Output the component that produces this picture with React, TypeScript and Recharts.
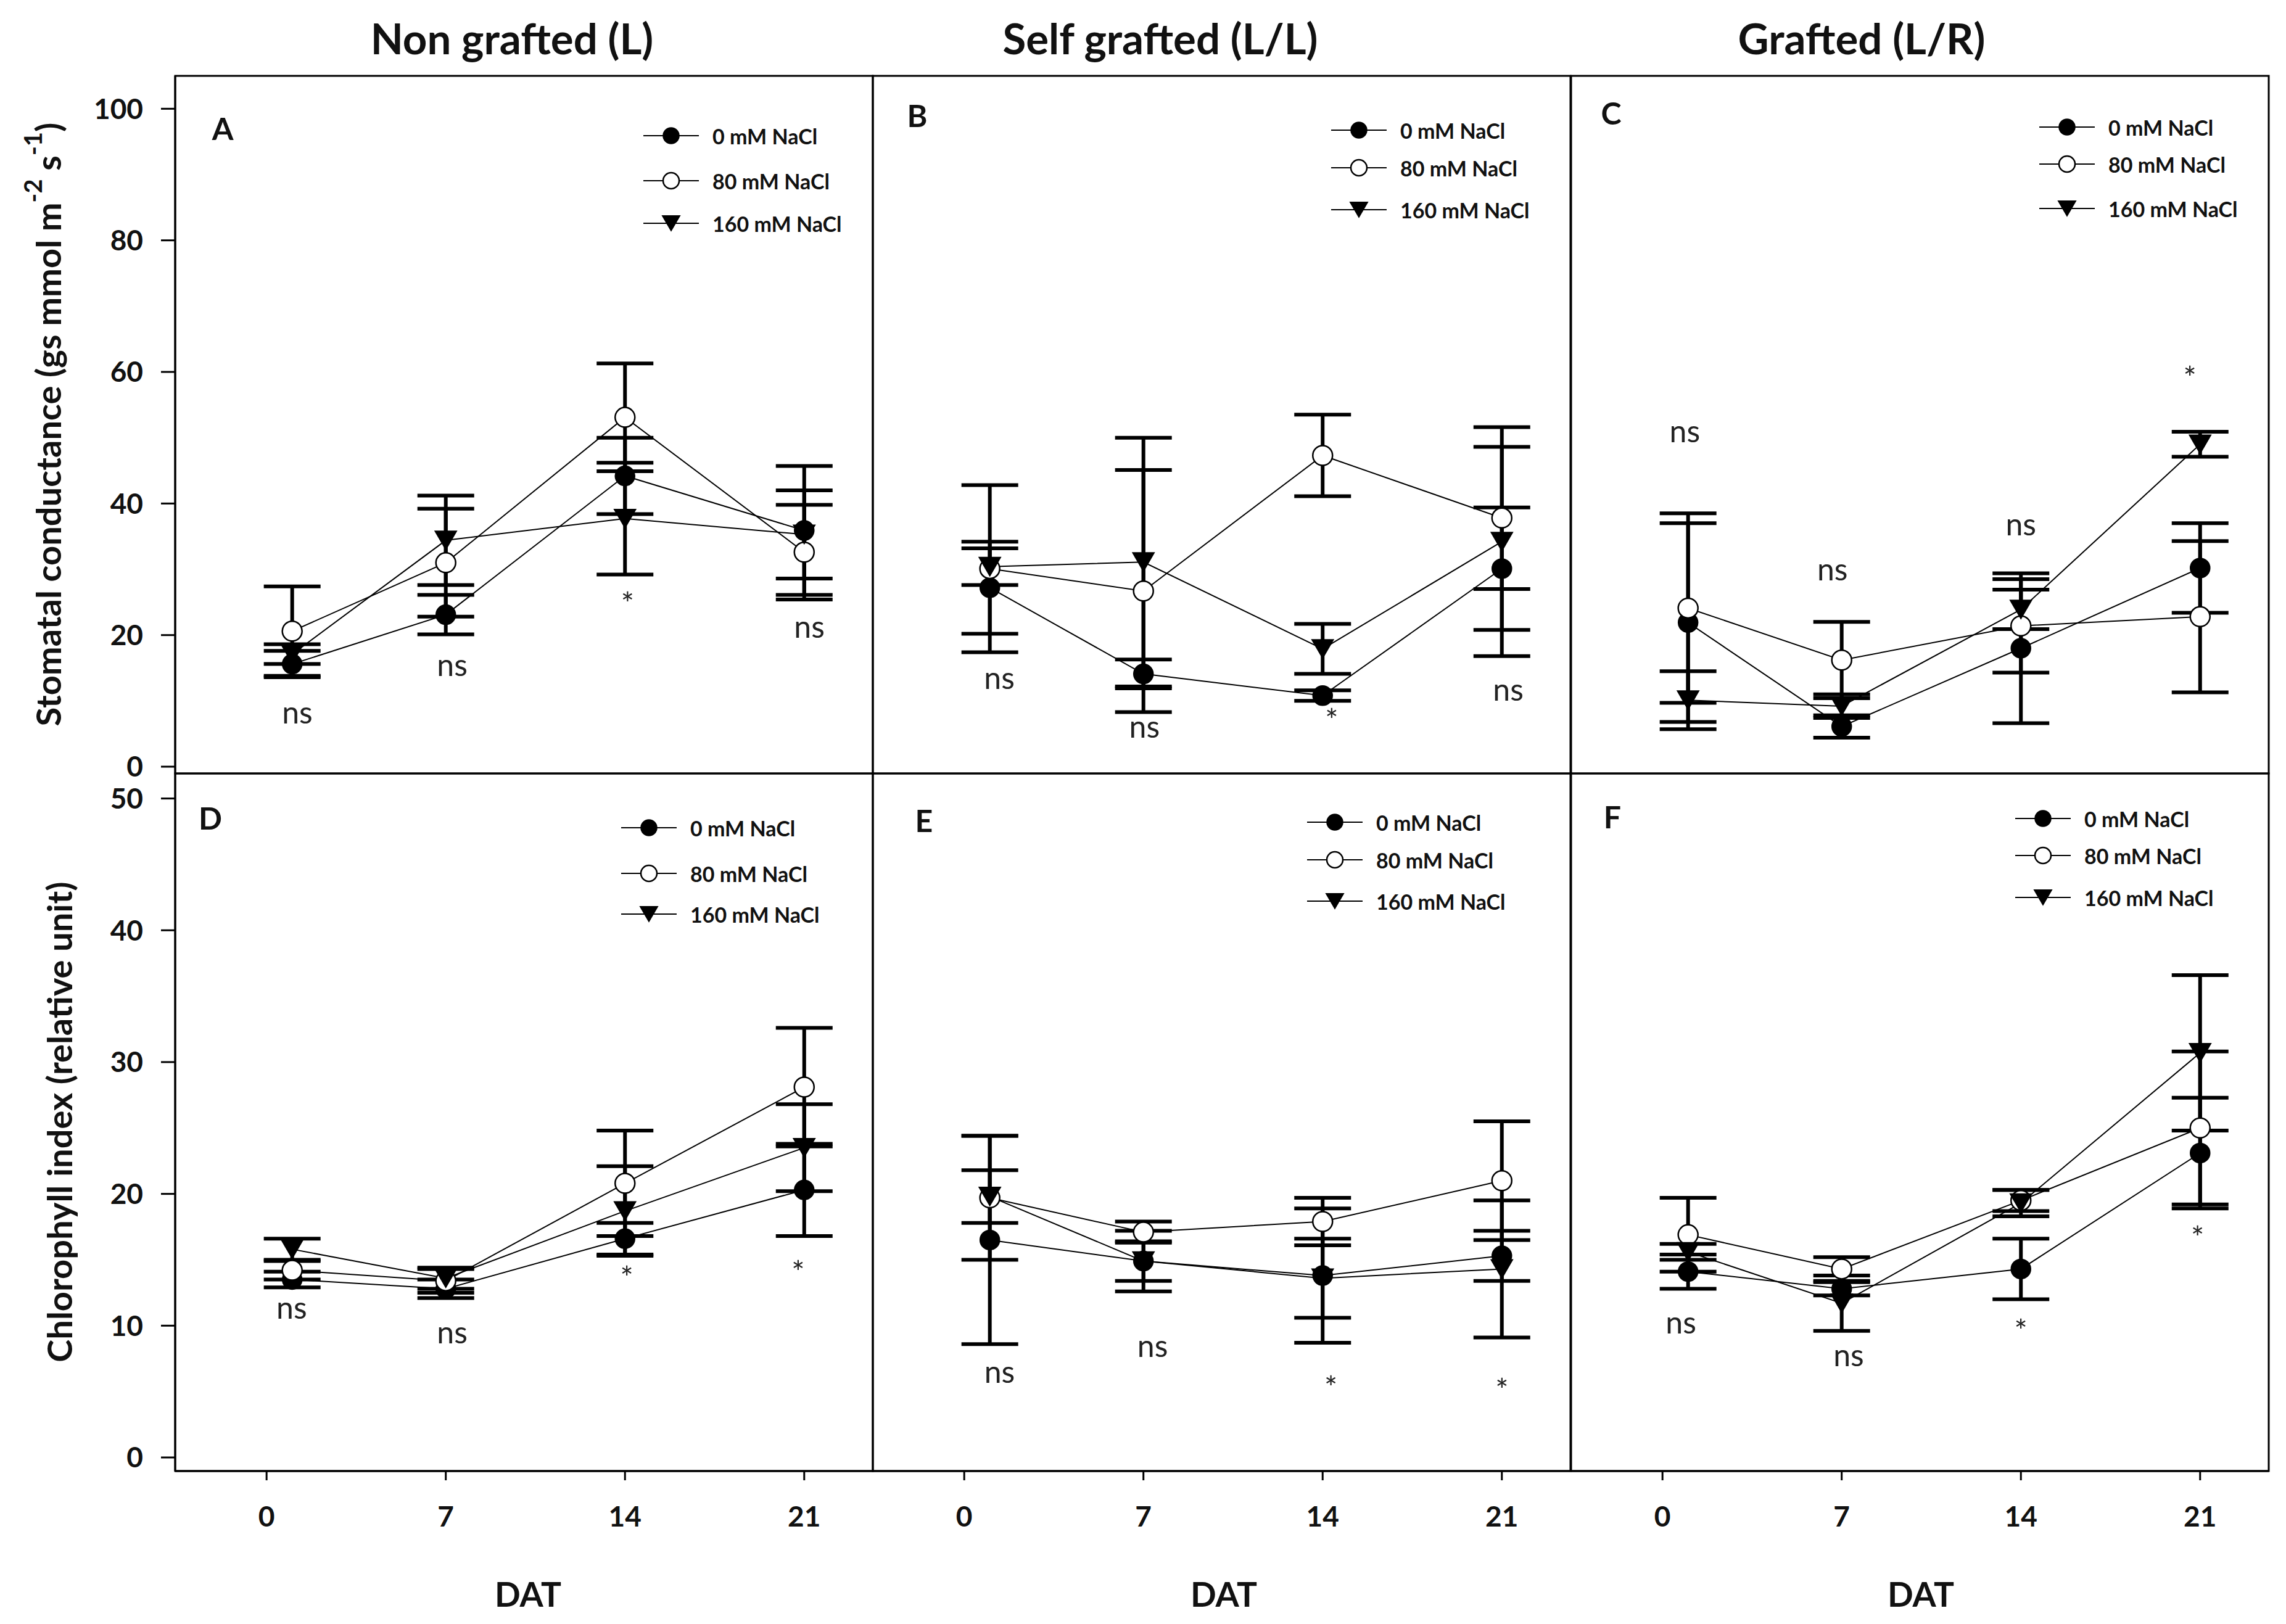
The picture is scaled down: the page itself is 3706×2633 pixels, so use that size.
import React from 'react';
import { ComposedChart, Line, ErrorBar, XAxis, YAxis, Scatter, Legend } from 'recharts';

const FONT = 'Lato, "Open Sans", "DejaVu Sans", sans-serif';

// ---------- categories & ticks ----------
const dayTicks = [0, 7, 14, 21];
const plotDays = [1, 7, 14, 21];
const gsTicks = [0, 20, 40, 60, 80, 100];
const chlTicks = [0, 10, 20, 30, 40, 50];
const seriesNames = ['0 mM NaCl', '80 mM NaCl', '160 mM NaCl'];
const columnTitles = ['Non grafted (L)', 'Self grafted (L/L)', 'Grafted (L/R)'];
const panelLetters = ['A', 'B', 'C', 'D', 'E', 'F'];

// ---------- Panel A: stomatal conductance, non grafted ----------
const A_0 = [15.6, 23.1, 44.2, 35.9];
const A_0_err = [2.0, 3.0, 5.8, 9.8];
const A_80 = [20.6, 31.0, 53.1, 32.6];
const A_80_err = [6.8, 8.2, 8.2, 7.2];
const A_160 = [17.1, 34.4, 37.7, 35.3];
const A_160_err = [1.5, 6.8, 8.5, 6.7];
const A_notes = [
  { x: 1.2, y: 7.9, t: 'ns' },
  { x: 7.25, y: 15.1, t: 'ns' },
  { x: 14.1, y: 25.6, t: '*' },
  { x: 21.2, y: 20.9, t: 'ns' },
];

// ---------- Panel B: stomatal conductance, self grafted ----------
const B_0 = [27.2, 14.1, 10.8, 30.1];
const B_0_err = [7.0, 2.2, 0.8, 9.3];
const B_80 = [30.1, 26.7, 47.3, 37.8];
const B_80_err = [12.7, 18.4, 6.2, 10.8];
const B_160 = [30.4, 31.1, 17.9, 34.2];
const B_160_err = [2.8, 18.9, 3.8, 17.4];
const B_notes = [
  { x: 1.37, y: 13.1, t: 'ns' },
  { x: 7.04, y: 5.7, t: 'ns' },
  { x: 14.35, y: 7.9, t: '*' },
  { x: 21.25, y: 11.3, t: 'ns' },
];

// ---------- Panel C: stomatal conductance, grafted ----------
const C_0 = [21.9, 6.1, 18.0, 30.2];
const C_0_err = [15.1, 1.7, 11.4, 6.8];
const C_80 = [24.1, 16.2, 21.4, 22.8];
const C_80_err = [14.4, 5.8, 7.1, 11.5];
const C_160 = [10.1, 9.2, 23.9, 49.0];
const C_160_err = [4.4, 1.8, 3.0, 1.9];
const C_notes = [
  { x: 0.87, y: 50.6, t: 'ns' },
  { x: 6.64, y: 29.6, t: 'ns' },
  { x: 14.0, y: 36.5, t: 'ns' },
  { x: 20.6, y: 59.9, t: '*' },
];

// ---------- Panel D: chlorophyll index, non grafted ----------
const D_0 = [13.5, 12.8, 16.6, 20.3];
const D_0_err = [0.6, 0.7, 1.2, 3.5];
const D_80 = [14.2, 13.4, 20.8, 28.1];
const D_80_err = [0.7, 0.9, 4.0, 4.5];
const D_160 = [15.8, 13.6, 18.7, 23.5];
const D_160_err = [0.8, 0.8, 3.4, 3.3];
const D_notes = [
  { x: 0.98, y: 11.2, t: 'ns' },
  { x: 7.25, y: 9.3, t: 'ns' },
  { x: 14.07, y: 14.05, t: '*' },
  { x: 20.76, y: 14.46, t: '*' },
];

// ---------- Panel E: chlorophyll index, self grafted ----------
const E_0 = [16.5, 14.9, 13.8, 15.3];
const E_0_err = [7.9, 2.3, 5.1, 1.9];
const E_80 = [19.7, 17.1, 17.9, 21.0];
const E_80_err = [4.7, 0.8, 1.8, 4.5];
const E_160 = [19.8, 14.9, 13.6, 14.3];
const E_160_err = [2.0, 1.5, 3.0, 5.2];
const E_notes = [
  { x: 1.38, y: 6.3, t: 'ns' },
  { x: 7.36, y: 8.26, t: 'ns' },
  { x: 14.32, y: 5.7, t: '*' },
  { x: 21.0, y: 5.5, t: '*' },
];

// ---------- Panel F: chlorophyll index, grafted ----------
const F_0 = [14.1, 12.8, 14.3, 23.1];
const F_0_err = [1.3, 0.5, 2.3, 4.2];
const F_80 = [16.9, 14.3, 19.5, 25.0];
const F_80_err = [2.8, 0.9, 0.8, 5.8];
const F_160 = [15.6, 11.7, 19.3, 30.7];
const F_160_err = [0.6, 2.1, 1.0, 5.9];
const F_notes = [
  { x: 0.72, y: 10.07, t: 'ns' },
  { x: 7.27, y: 7.6, t: 'ns' },
  { x: 14.0, y: 10.0, t: '*' },
  { x: 20.9, y: 17.1, t: '*' },
];

// ---------- layout (pixels) ----------
const PLOT_W = 1131;
const PLOT_H = 1131;
const COL_LEFT = [284, 1415, 2547];
const ROW_TOP = [123, 1254];
const Y_AXIS_W = 284;
const X_AXIS_H = 280;
const PAD_TOP = 20;
const PAD_BOTTOM_TOPROW = 40;
const X_DOMAIN: [number, number] = [-3.57, 23.68];
const TOP_DOMAIN: [number, number] = [-1.03, 105];
const BOTTOM_DOMAIN: [number, number] = [-1.03, 51.9];

const makeSeries = (vals: number[], errs: number[]) =>
  plotDays.map((d, i) => ({ x: d, y: vals[i], e: errs[i] }));

type PanelCfg = {
  row: number;
  col: number;
  series: [number[], number[]][];
  notes: { x: number; y: number; t: string }[];
  legend: { x: number; rows: number[] };
  letter: { x: number; y: number };
};

const panels: PanelCfg[] = [
  { row: 0, col: 0, series: [[A_0, A_0_err], [A_80, A_80_err], [A_160, A_160_err]], notes: A_notes, legend: { x: 1043, rows: [220, 293, 362] }, letter: { x: 361, y: 208 } },
  { row: 0, col: 1, series: [[B_0, B_0_err], [B_80, B_80_err], [B_160, B_160_err]], notes: B_notes, legend: { x: 2158, rows: [211, 272, 340] }, letter: { x: 1487, y: 187 } },
  { row: 0, col: 2, series: [[C_0, C_0_err], [C_80, C_80_err], [C_160, C_160_err]], notes: C_notes, legend: { x: 3306, rows: [206, 266, 338] }, letter: { x: 2612, y: 183 } },
  { row: 1, col: 0, series: [[D_0, D_0_err], [D_80, D_80_err], [D_160, D_160_err]], notes: D_notes, legend: { x: 1007, rows: [1342, 1416, 1482] }, letter: { x: 341, y: 1326 } },
  { row: 1, col: 1, series: [[E_0, E_0_err], [E_80, E_80_err], [E_160, E_160_err]], notes: E_notes, legend: { x: 2119, rows: [1333, 1394, 1461] }, letter: { x: 1498, y: 1330 } },
  { row: 1, col: 2, series: [[F_0, F_0_err], [F_80, F_80_err], [F_160, F_160_err]], notes: F_notes, legend: { x: 3267, rows: [1327, 1387, 1455] }, letter: { x: 2614, y: 1324 } },
];

function Marker({ kind, cx, cy, r }: { kind: number; cx: number; cy: number; r: number }) {
  if (cx == null || cy == null || isNaN(cx) || isNaN(cy)) return null;
  if (kind === 0) return <circle cx={cx} cy={cy} r={r} fill="#000" stroke="#000" strokeWidth={1.5} />;
  if (kind === 1) return <circle cx={cx} cy={cy} r={r} fill="#fff" stroke="#000" strokeWidth={2.5} />;
  const s = r * 1.1;
  const h = r * 1.9;
  return (
    <polygon
      points={`${cx - s},${cy - h / 2} ${cx + s},${cy - h / 2} ${cx},${cy + h / 2}`}
      fill="#000"
      stroke="#000"
      strokeWidth={1.5}
      strokeLinejoin="miter"
    />
  );
}

const tickStyle = { fontSize: 46, fontWeight: 700, fill: '#111', fontFamily: FONT };
const axisStroke = { stroke: '#000', strokeWidth: 3 };

function makeLegend(rows: number[]) {
  return (props: any) => {
    const payload = ((props && props.payload) || []).filter(
      (entry: any) => entry && entry.type !== 'none' && seriesNames.indexOf(entry.value) >= 0
    );
    const base = rows[0] - 30;
    return (
      <svg width={560} height={rows[2] - rows[0] + 60} style={{ display: 'block', overflow: 'visible' }}>
        {payload.map((entry: any, i: number) => {
          const kind = seriesNames.indexOf(entry.value);
          const y = rows[kind] - base;
          return (
            <g key={`lg-${i}`}>
              <line x1={0} x2={90} y1={y} y2={y} stroke="#000" strokeWidth={2} />
              <Marker kind={kind} cx={45} cy={y} r={13} />
              <text x={112} y={y} dominantBaseline="central" fontSize={34} fontWeight={700} fill="#111" fontFamily={FONT}>
                {entry.value}
              </text>
            </g>
          );
        })}
      </svg>
    );
  };
}

function Panel({ p }: { p: PanelCfg }) {
  const isLeft = p.col === 0;
  const isBottom = p.row === 1;
  const padBottom = isBottom ? 0 : PAD_BOTTOM_TOPROW;
  const chartLeft = isLeft ? 0 : COL_LEFT[p.col];
  const chartTop = ROW_TOP[p.row] - PAD_TOP;
  const width = (isLeft ? Y_AXIS_W : 0) + PLOT_W + 10;
  const height = PAD_TOP + PLOT_H + (isBottom ? X_AXIS_H : 0) + padBottom;
  const yDomain = p.row === 0 ? TOP_DOMAIN : BOTTOM_DOMAIN;
  const yTicks = p.row === 0 ? gsTicks : chlTicks;
  return (
    <div style={{ position: 'absolute', left: chartLeft, top: chartTop, width, height }}>
      <ComposedChart width={width} height={height} margin={{ top: PAD_TOP, right: 10, bottom: padBottom, left: 0 }}>
        <XAxis
          type="number"
          dataKey="x"
          domain={X_DOMAIN}
          ticks={dayTicks}
          interval={0}
          allowDataOverflow
          hide={!isBottom}
          height={X_AXIS_H}
          tickSize={15}
          tickMargin={42}
          tick={tickStyle}
          tickLine={axisStroke}
          axisLine={axisStroke}
        />
        <YAxis
          type="number"
          domain={yDomain}
          ticks={yTicks}
          interval={0}
          allowDataOverflow
          hide={!isLeft}
          width={Y_AXIS_W}
          tickSize={23}
          tickMargin={29}
          tick={tickStyle}
          tickLine={axisStroke}
          axisLine={axisStroke}
        />
        {p.series.map(([vals, errs], k) => (
          <Line
            key={`s-${k}`}
            data={makeSeries(vals, errs)}
            dataKey="y"
            name={seriesNames[k]}
            stroke="#000"
            strokeWidth={2}
            isAnimationActive={false}
            activeDot={false}
            dot={(dp: any) => <Marker key={`d-${k}-${dp.index}`} kind={k} cx={dp.cx} cy={dp.cy} r={16} />}
          >
            <ErrorBar dataKey="e" direction="y" width={46} strokeWidth={6} stroke="#000" isAnimationActive={false} />
          </Line>
        ))}
        <Scatter
          data={p.notes}
          dataKey="y"
          name="notes"
          legendType="none"
          isAnimationActive={false}
          shape={(sp: any) => (
            <text
              x={sp.cx}
              y={sp.cy}
              dy={sp.payload.t === '*' ? 27 : 14}
              textAnchor="middle"
              fontSize={50}
              fill="#222"
              fontFamily={FONT}
            >
              {sp.payload.t}
            </text>
          )}
        />
        <Legend
          layout="horizontal"
          verticalAlign="middle"
          align="center"
          content={makeLegend(p.legend.rows)}
          wrapperStyle={{
            left: p.legend.x - chartLeft,
            top: p.legend.rows[0] - 30 - chartTop,
            width: 560,
            height: p.legend.rows[2] - p.legend.rows[0] + 60,
          }}
        />
      </ComposedChart>
    </div>
  );
}

export default function App() {
  const titleX = [830, 1881, 3018];
  const datX = [856, 1984, 3114];
  return (
    <div style={{ position: 'relative', width: 3706, height: 2633, background: '#fff', overflow: 'hidden' }}>
      <style>{`body{margin:0;background:#fff;}`}</style>
      <svg width={3706} height={2633} style={{ position: 'absolute', left: 0, top: 0 }}>
        {columnTitles.map((t, i) => (
          <text key={t} x={titleX[i]} y={88} textAnchor="middle" fontSize={69} fontWeight={700} fill="#111" fontFamily={FONT}>
            {t}
          </text>
        ))}
        {panels.map((p, i) => (
          <rect
            key={`f-${i}`}
            x={COL_LEFT[p.col]}
            y={ROW_TOP[p.row]}
            width={PLOT_W}
            height={PLOT_H}
            fill="none"
            stroke="#000"
            strokeWidth={3}
          />
        ))}
        {panels.map((p, i) => (
          <text
            key={`l-${i}`}
            x={p.letter.x}
            y={p.letter.y}
            textAnchor="middle"
            dominantBaseline="central"
            fontSize={50}
            fontWeight={700}
            fill="#111"
            fontFamily={FONT}
          >
            {panelLetters[i]}
          </text>
        ))}
        <text
          x={77}
          y={688}
          transform="rotate(-90, 77, 688)"
          textAnchor="middle"
          dominantBaseline="central"
          fontSize={56}
          fontWeight={700}
          fill="#111"
          fontFamily={FONT}
        >
          Stomatal conductance (gs mmol m
          <tspan fontSize={40} dy={-24}>-2</tspan>
          <tspan dy={24}> s</tspan>
          <tspan fontSize={40} dy={-24}>-1</tspan>
          <tspan dy={24}>)</tspan>
        </text>
        <text
          x={95}
          y={1819}
          transform="rotate(-90, 95, 1819)"
          textAnchor="middle"
          dominantBaseline="central"
          fontSize={56}
          fontWeight={700}
          fill="#111"
          fontFamily={FONT}
        >
          Chlorophyll index (relative unit)
        </text>
        {datX.map((x, i) => (
          <text key={`dat-${i}`} x={x} y={2584} textAnchor="middle" dominantBaseline="central" fontSize={55} fontWeight={700} fill="#111" fontFamily={FONT}>
            DAT
          </text>
        ))}
      </svg>
      {panels.map((p, i) => (
        <Panel key={`p-${i}`} p={p} />
      ))}
    </div>
  );
}
